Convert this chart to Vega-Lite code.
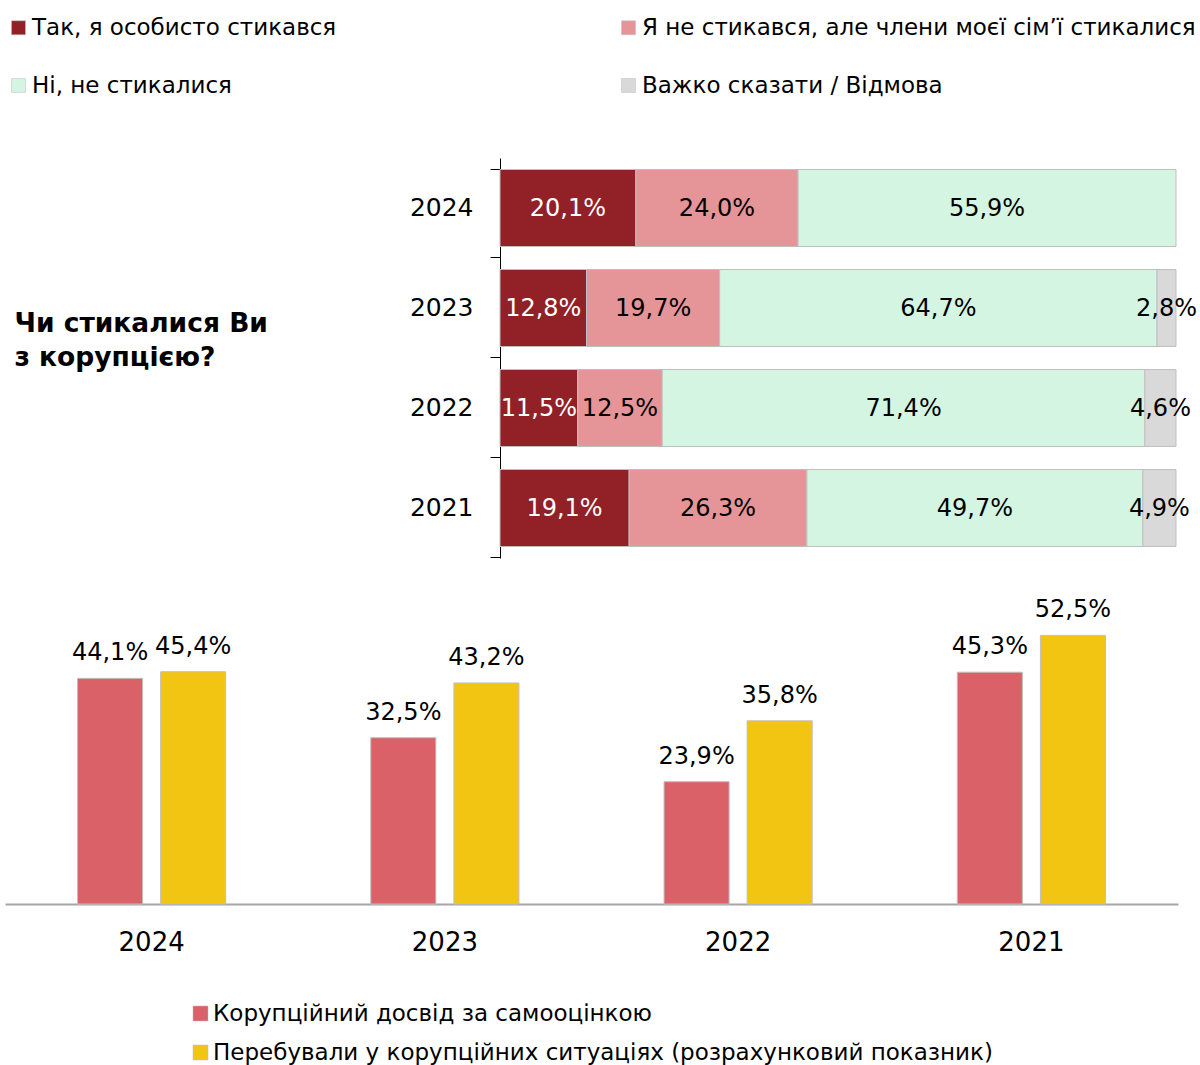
{
  "$schema": "https://vega.github.io/schema/vega-lite/v6.json",
  "padding": {"left": 5, "top": 16, "right": 0, "bottom": 0},
  "spacing": 39,
  "config": {
    "view": {"stroke": null},
    "font": "DejaVu Sans",
    "locale": {"number": {"decimal": ",", "thousands": " ", "grouping": [3], "currency": ["", ""]}}
  },
  "resolve": {"scale": {"color": "independent", "x": "independent", "y": "independent"}, "legend": {"color": "independent"}},
  "vconcat": [
    {
      "width": 1171,
      "height": 400,
      "data": {"values": [
        {"year": "2024", "k": 1, "cat": "Так, я особисто стикався", "value": 0.201},
        {"year": "2024", "k": 2, "cat": "Я не стикався, але члени моєї сім’ї стикалися", "value": 0.240},
        {"year": "2024", "k": 3, "cat": "Ні, не стикалися", "value": 0.559},
        {"year": "2023", "k": 1, "cat": "Так, я особисто стикався", "value": 0.128},
        {"year": "2023", "k": 2, "cat": "Я не стикався, але члени моєї сім’ї стикалися", "value": 0.197},
        {"year": "2023", "k": 3, "cat": "Ні, не стикалися", "value": 0.647},
        {"year": "2023", "k": 4, "cat": "Важко сказати / Відмова", "value": 0.028},
        {"year": "2022", "k": 1, "cat": "Так, я особисто стикався", "value": 0.115},
        {"year": "2022", "k": 2, "cat": "Я не стикався, але члени моєї сім’ї стикалися", "value": 0.125},
        {"year": "2022", "k": 3, "cat": "Ні, не стикалися", "value": 0.714},
        {"year": "2022", "k": 4, "cat": "Важко сказати / Відмова", "value": 0.046},
        {"year": "2021", "k": 1, "cat": "Так, я особисто стикався", "value": 0.191},
        {"year": "2021", "k": 2, "cat": "Я не стикався, але члени моєї сім’ї стикалися", "value": 0.263},
        {"year": "2021", "k": 3, "cat": "Ні, не стикалися", "value": 0.497},
        {"year": "2021", "k": 4, "cat": "Важко сказати / Відмова", "value": 0.049}
      ]},
      "transform": [
        {"stack": "value", "groupby": ["year"], "sort": [{"field": "k", "order": "ascending"}], "as": ["v0", "v1"]}
      ],
      "encoding": {
        "y": {
          "field": "year", "type": "nominal", "sort": ["2024", "2023", "2022", "2021"],
          "scale": {"paddingInner": 0.23, "paddingOuter": 0.115},
          "axis": {
            "orient": "left", "offset": -495,
            "title": ["Чи стикалися Ви", "з корупцією?"],
            "titleAngle": 0, "titleAlign": "left", "titleBaseline": "top",
            "titleX": -486, "titleY": 152, "titleFontSize": 26.5, "titleFontWeight": "bold",
            "titleColor": "#000000", "titleLineHeight": 34,
            "labelFontSize": 25, "labelColor": "#000000", "labelPadding": 17, "labelAngle": 0,
            "tickSize": 10, "tickColor": "#000000", "domainColor": "#000000",
            "bandPosition": 1.149, "tickExtra": true
          }
        }
      },
      "layer": [
        {
          "mark": {"type": "bar", "stroke": "#BFBFBF", "strokeWidth": 1},
          "encoding": {
            "x": {"field": "v0", "type": "quantitative", "scale": {"domain": [-0.73225, 1], "nice": false, "zero": false}, "axis": null},
            "x2": {"field": "v1"},
            "color": {
              "field": "cat", "type": "nominal",
              "scale": {
                "domain": ["Так, я особисто стикався", "Я не стикався, але члени моєї сім’ї стикалися", "Ні, не стикалися", "Важко сказати / Відмова"],
                "range": ["#912127", "#E59597", "#D5F5E3", "#D9D9D9"]
              },
              "legend": {
                "orient": "none", "legendX": 2, "legendY": -142, "columns": 2, "direction": "horizontal",
                "columnPadding": 280, "rowPadding": 34,
                "title": null, "labelFontSize": 23, "labelColor": "#000000", "labelLimit": 0, "labelOffset": 2,
                "symbolType": "square", "symbolSize": 196, "symbolStrokeColor": "#BFBFBF", "symbolStrokeWidth": 0.5
              }
            }
          }
        },
        {
          "transform": [
            {"fold": ["v0", "v1"], "as": ["edge", "pos"]},
            {"aggregate": [{"op": "mean", "field": "pos", "as": "mid"}], "groupby": ["year", "cat", "value"]}
          ],
          "mark": {"type": "text", "fontSize": 24, "baseline": "middle", "dy": 1},
          "encoding": {
            "x": {"field": "mid", "type": "quantitative"},
            "text": {"field": "value", "type": "quantitative", "format": ".1%"},
            "color": {"condition": {"test": "datum.cat === 'Так, я особисто стикався'", "value": "#FFFFFF"}, "value": "#000000"}
          }
        }
      ]
    },
    {
      "width": 1173,
      "height": 307,
      "data": {"values": [
        {"year": "2024", "series": "Корупційний досвід за самооцінкою", "value": 0.441},
        {"year": "2024", "series": "Перебували у корупційних ситуаціях (розрахунковий показник)", "value": 0.454},
        {"year": "2023", "series": "Корупційний досвід за самооцінкою", "value": 0.325},
        {"year": "2023", "series": "Перебували у корупційних ситуаціях (розрахунковий показник)", "value": 0.432},
        {"year": "2022", "series": "Корупційний досвід за самооцінкою", "value": 0.239},
        {"year": "2022", "series": "Перебували у корупційних ситуаціях (розрахунковий показник)", "value": 0.358},
        {"year": "2021", "series": "Корупційний досвід за самооцінкою", "value": 0.453},
        {"year": "2021", "series": "Перебували у корупційних ситуаціях (розрахунковий показник)", "value": 0.525}
      ]},
      "encoding": {
        "x": {
          "field": "year", "type": "nominal", "sort": ["2024", "2023", "2022", "2021"],
          "scale": {"paddingInner": 0, "paddingOuter": 0},
          "axis": {"title": null, "labelAngle": 0, "labelFontSize": 26, "labelColor": "#000000", "labelPadding": 25, "ticks": false, "domainColor": "#A6A6A6", "domainWidth": 2}
        },
        "xOffset": {
          "field": "series", "type": "nominal",
          "sort": ["Корупційний досвід за самооцінкою", "Перебували у корупційних ситуаціях (розрахунковий показник)"],
          "scale": {"paddingInner": 0.217, "paddingOuter": 0.873}
        },
        "y": {"field": "value", "type": "quantitative", "scale": {"domain": [0, 0.6], "nice": false}, "axis": null}
      },
      "layer": [
        {
          "mark": {"type": "bar", "stroke": "#BFBFBF", "strokeWidth": 1},
          "encoding": {
            "color": {
              "field": "series", "type": "nominal",
              "scale": {
                "domain": ["Корупційний досвід за самооцінкою", "Перебували у корупційних ситуаціях (розрахунковий показник)"],
                "range": ["#D96167", "#F2C512"]
              },
              "legend": {
                "orient": "none", "legendX": 184, "legendY": 405, "title": null,
                "labelFontSize": 23, "labelColor": "#000000", "labelLimit": 0, "labelOffset": 1,
                "symbolType": "square", "symbolSize": 225, "rowPadding": 15, "symbolStrokeColor": "#BFBFBF", "symbolStrokeWidth": 0.5
              }
            }
          }
        },
        {
          "mark": {"type": "text", "fontSize": 24, "baseline": "alphabetic", "dy": -18, "color": "#000000"},
          "encoding": {
            "text": {"field": "value", "type": "quantitative", "format": ".1%"}
          }
        }
      ]
    }
  ]
}
